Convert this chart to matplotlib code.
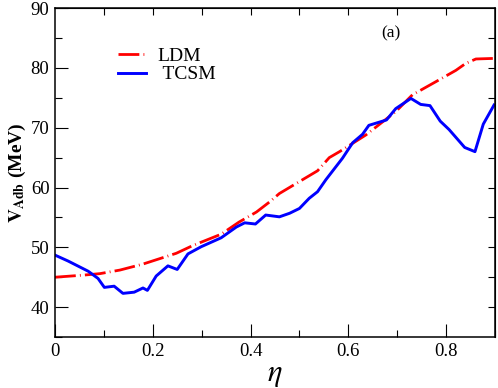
import matplotlib
matplotlib.use("Agg")
import matplotlib.pyplot as plt
from matplotlib.ticker import MultipleLocator

plt.rcParams['font.family'] = ['Liberation Serif', 'DejaVu Serif']
plt.rcParams['mathtext.fontset'] = 'stix'

# LDM curve (red dashed)
eta_ldm = [0.0, 0.058, 0.092, 0.133, 0.18, 0.248, 0.282, 0.34, 0.376, 0.412,
           0.439, 0.459, 0.5, 0.537, 0.561, 0.582, 0.636, 0.697, 0.731, 0.779,
           0.82, 0.84, 0.861, 0.9]
v_ldm = [45.0, 45.35, 45.6, 46.2, 47.2, 49.0, 50.3, 52.2, 54.2, 55.9,
         57.6, 59.0, 61.0, 62.8, 65.0, 66.0, 68.8, 72.7, 75.5, 77.7,
         79.6, 80.75, 81.5, 81.6]

# TCSM curve (blue solid)
eta_tcsm = [0.0, 0.027, 0.068, 0.088, 0.101, 0.121, 0.139, 0.162, 0.18, 0.189,
            0.207, 0.231, 0.25, 0.272, 0.299, 0.34, 0.371, 0.388, 0.41, 0.431,
            0.459, 0.48, 0.5, 0.52, 0.537, 0.554, 0.588, 0.609, 0.629, 0.642,
            0.678, 0.697, 0.728, 0.748, 0.767, 0.788, 0.806, 0.838, 0.859, 0.876,
            0.898]
v_tcsm = [48.7, 47.7, 46.0, 44.8, 43.3, 43.5, 42.3, 42.5, 43.2, 42.8,
          45.2, 46.9, 46.3, 48.9, 50.1, 51.6, 53.4, 54.1, 53.9, 55.4,
          55.1, 55.7, 56.5, 58.2, 59.3, 61.3, 64.9, 67.5, 68.9, 70.4,
          71.3, 73.2, 74.9, 73.9, 73.7, 71.1, 69.7, 66.7, 66.0, 70.6,
          73.8]

xticks = [0, 0.2, 0.4, 0.6, 0.8]
xticklabels = ['0', '0.2', '0.4', '0.6', '0.8']
yticks = [40, 50, 60, 70, 80, 90]

fig = plt.figure(figsize=(4.98, 3.88), dpi=100)
ax = fig.add_axes([0.1104, 0.1314, 0.8836, 0.8476])

ax.plot(eta_ldm, v_ldm, color='red', lw=2.0, dashes=(7.5, 1.5, 0.3, 1.5), label='LDM')
ax.plot(eta_tcsm, v_tcsm, color='blue', lw=2.1, label=' TCSM')

ax.set_xlim(0, 0.9)
ax.set_ylim(35, 90)
ax.set_xticks(xticks)
ax.set_xticklabels(xticklabels)
ax.set_yticks(yticks)
ax.xaxis.set_minor_locator(MultipleLocator(0.1))
ax.yaxis.set_minor_locator(MultipleLocator(5))
ax.tick_params(which='major', direction='in', length=9.5, width=0.8, labelsize=13.5, pad=4)
ax.tick_params(which='minor', direction='in', length=5, width=0.8)
for s in ax.spines.values():
    s.set_linewidth(1.1)

# top and right ticks (all short)
top = ax.secondary_xaxis('top')
top.set_xticks([0.1 * i for i in range(1, 9)])
top.tick_params(direction='in', length=5, width=0.8, labeltop=False)
right = ax.secondary_yaxis('right')
right.set_yticks([40, 45, 50, 55, 60, 65, 70, 75, 80, 85])
right.tick_params(direction='in', length=5, width=0.8, labelright=False)

ax.set_xlabel(r'$\eta$', fontsize=22, labelpad=0)
ax.set_ylabel(r'$\mathbf{V}_{\mathbf{Adb}}$ (MeV)', fontsize=14, fontweight='bold', labelpad=2)

ax.text(0.686, 85.8, '(a)', fontsize=12.5, ha='center', va='center')

ax.legend(loc='upper left', bbox_to_anchor=(0.125, 0.905), frameon=False,
          fontsize=14, handlelength=1.45, handletextpad=0.6, labelspacing=0.05,
          borderaxespad=0)

fig.savefig('out.png', dpi=100)
